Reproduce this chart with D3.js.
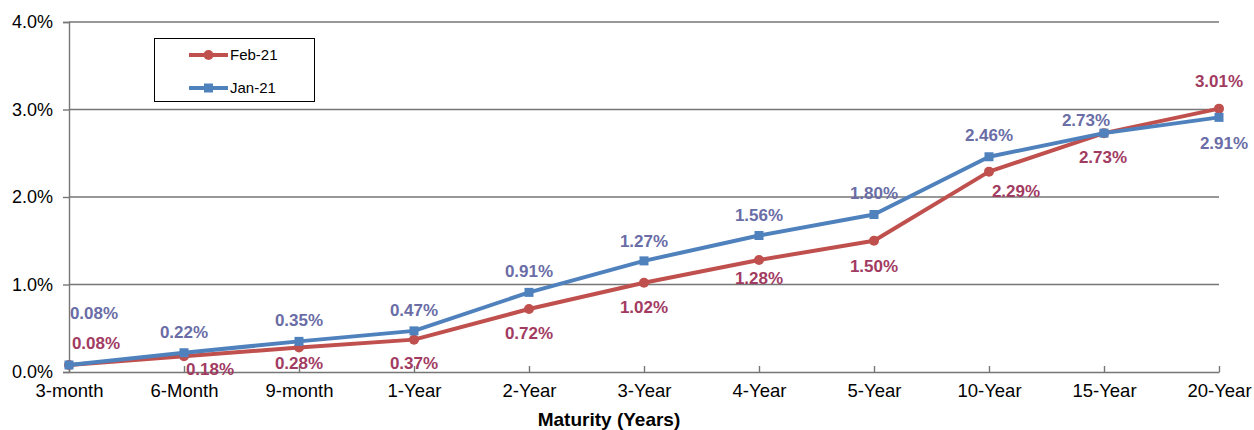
<!DOCTYPE html>
<html><head><meta charset="utf-8">
<script src="https://cdn.jsdelivr.net/npm/d3@7"></script>
<style>body{margin:0;background:#fff}svg{display:block}text{font-family:Arial,"Liberation Sans",sans-serif}</style>
</head><body><svg id="c" width="1254" height="430"></svg>
<script>
const categories = ["3-month","6-Month","9-month","1-Year","2-Year","3-Year","4-Year","5-Year","10-Year","15-Year","20-Year"];
const feb21 = [0.08,0.18,0.28,0.37,0.72,1.02,1.28,1.50,2.29,2.73,3.01];
const jan21 = [0.08,0.22,0.35,0.47,0.91,1.27,1.56,1.80,2.46,2.73,2.91];
const yTicks = [0,1,2,3,4];
// label offsets (layout only): [dx, dy] from point
const febOff = [[27,-22],[26,13],[0,15],[0,23],[0,24],[0,24],[0,18],[0,25],[27,19],[-1,24],[0,-28]];
const janOff = [[25,-52],[0,-21],[0,-21],[0,-21],[0,-21],[0,-20],[0,-21],[0,-22],[0,-22],[-18,-13],[5,26]];

const FONT = "Arial, 'Liberation Sans', sans-serif";
const svg = d3.select("#c");
const x = d3.scalePoint().domain(categories).range([69,1219]).padding(0);
const y = d3.scaleLinear().domain([0,4]).range([372,22]);

// gridlines
svg.append("g").selectAll("line").data(yTicks.filter(d=>d>0)).join("line")
  .attr("x1",69).attr("x2",1219).attr("y1",d=>y(d)).attr("y2",d=>y(d))
  .attr("stroke","#767676").attr("stroke-width",1.4);

// y axis
const ya = svg.append("g").attr("transform","translate(69,0)")
  .call(d3.axisLeft(y).tickValues(yTicks).tickFormat(d=>d.toFixed(1)+"%").tickSize(6).tickPadding(10));
ya.select(".domain").attr("stroke","#767676").attr("stroke-width",1.4);
ya.selectAll(".tick line").attr("stroke","#767676").attr("stroke-width",1.4);
ya.selectAll("text").attr("font-size",18).attr("fill","#000").attr("font-family",FONT);

// x axis
const xa = svg.append("g").attr("transform","translate(0,372)")
  .call(d3.axisBottom(x).tickSizeInner(-6).tickSizeOuter(0).tickPadding(11.5));
xa.select(".domain").attr("stroke","#767676").attr("stroke-width",1.4);
xa.selectAll(".tick line").attr("stroke","#767676").attr("stroke-width",1.4);
xa.selectAll("text").attr("font-size",18.5).attr("fill","#000").attr("font-family",FONT);

svg.append("text").attr("x",609).attr("y",426).attr("text-anchor","middle")
  .attr("font-size",19).attr("font-weight","bold").text("Maturity (Years)");

const line = d3.line().x((d,i)=>x(categories[i])).y(d=>y(d));
const series = [
  {name:"Feb-21", data:feb21, color:"#C0504D", lab:"#A23B62", off:febOff, shape:"circle"},
  {name:"Jan-21", data:jan21, color:"#4F81BD", lab:"#6A6DA6", off:janOff, shape:"square"}
];
function marker(g, shape, cx, cy, color){
  if(shape==="circle") g.append("circle").attr("cx",cx).attr("cy",cy).attr("r",5).attr("fill",color);
  else g.append("rect").attr("x",cx-4.5).attr("y",cy-4.5).attr("width",9).attr("height",9).attr("fill",color);
}
series.forEach(s=>{
  const g = svg.append("g");
  g.append("path").attr("d",line(s.data)).attr("fill","none").attr("stroke",s.color).attr("stroke-width",4).attr("stroke-linejoin","round");
  s.data.forEach((v,i)=>marker(g,s.shape,x(categories[i]),y(v),s.color));
});
series.forEach(s=>{
  svg.append("g").selectAll("text").data(s.data).join("text")
    .attr("x",(d,i)=>x(categories[i])+s.off[i][0])
    .attr("y",(d,i)=>y(d)+s.off[i][1])
    .attr("dy","0.36em").attr("text-anchor","middle")
    .attr("font-size",17).attr("font-weight","bold").attr("fill",s.lab)
    .text(d=>d.toFixed(2)+"%");
});

// legend
const lg = svg.append("g");
lg.append("rect").attr("x",154.5).attr("y",38.5).attr("width",160).attr("height",63).attr("fill","#fff").attr("stroke","#000").attr("stroke-width",1);
series.forEach((s,i)=>{
  const ly = 55 + i*33;
  lg.append("line").attr("x1",189).attr("x2",228).attr("y1",ly).attr("y2",ly).attr("stroke",s.color).attr("stroke-width",4);
  marker(lg,s.shape,208.5,ly,s.color);
  lg.append("text").attr("x",230).attr("y",ly).attr("dy","0.36em").attr("font-size",15).attr("fill","#000").text(s.name);
});
</script></body></html>
